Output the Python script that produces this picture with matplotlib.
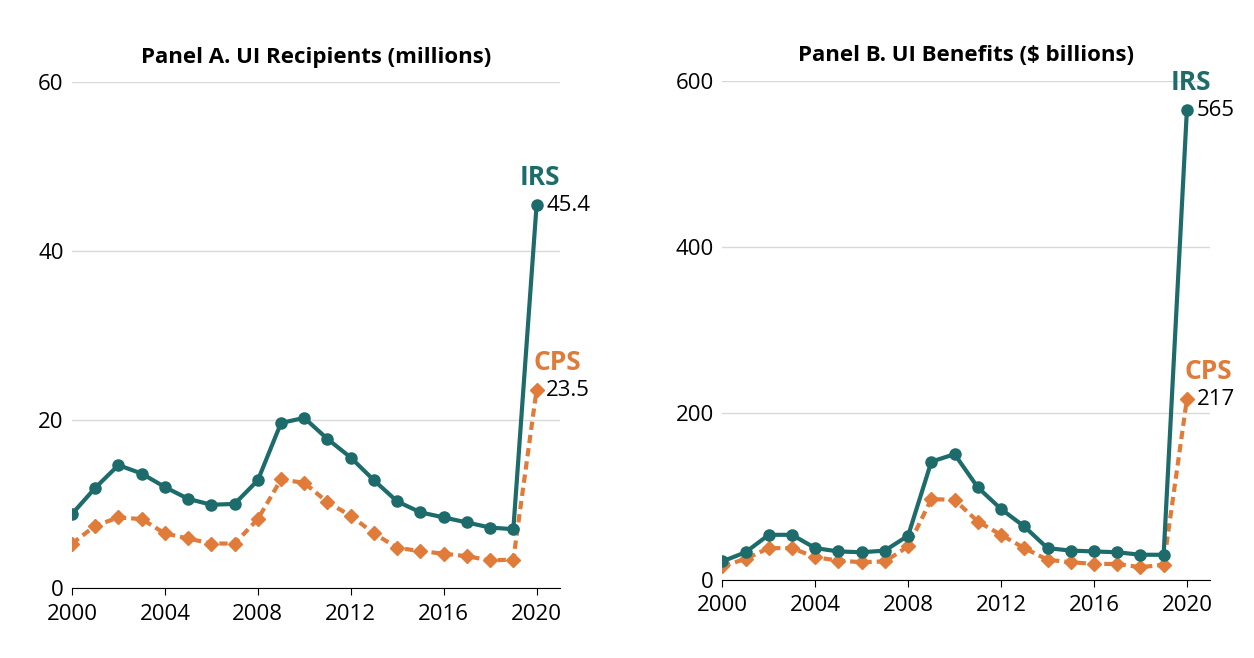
import matplotlib.pyplot as plt

years = list(range(2000, 2021))
irs_recip = [8.8, 11.9, 14.6, 13.6, 12.0, 10.6, 9.9, 10.0, 12.8, 19.6, 20.2,
             17.7, 15.5, 12.8, 10.3, 9.0, 8.4, 7.8, 7.2, 7.0, 45.4]
cps_recip = [5.3, 7.4, 8.4, 8.2, 6.5, 5.9, 5.3, 5.3, 8.2, 12.9, 12.5,
             10.2, 8.6, 6.5, 4.8, 4.4, 4.1, 3.8, 3.3, 3.4, 23.5]
irs_ben = [22, 33, 54, 54, 38, 34, 33, 35, 53, 142, 151,
           111, 85, 64, 38, 35, 34, 33, 30, 30, 565]
cps_ben = [16, 25, 38, 38, 27, 23, 21, 22, 40, 97, 96,
           70, 54, 38, 24, 21, 19, 19, 15, 18, 217]

TEAL = '#1d6b6b'
ORANGE = '#e07b39'
plt.rcParams['font.family'] = 'Open Sans'

fig = plt.figure(figsize=(12.54, 6.58), dpi=100)
ax1 = fig.add_axes([0.0574, 0.106, 0.389, 0.769])
ax2 = fig.add_axes([0.576, 0.119, 0.389, 0.758])

panels = [
    (ax1, irs_recip, cps_recip, 60, [0, 20, 40, 60], "Panel A. UI Recipients (millions)", "45.4", "23.5"),
    (ax2, irs_ben, cps_ben, 600, [0, 200, 400, 600], "Panel B. UI Benefits ($ billions)", "565", "217"),
]
for ax, irs, cps, ymax, yt, title, irs_lbl, cps_lbl in panels:
    ax.plot(years, cps, color=ORANGE, lw=3, ls=(0, (2, 1.2)), marker='D', ms=7, zorder=3)
    ax.plot(years, irs, color=TEAL, lw=3, marker='o', ms=8, zorder=4)
    ax.set_xlim(2000, 2021.0)
    ax.set_ylim(0, ymax)
    ax.set_yticks(yt)
    ax.set_xticks(range(2000, 2021, 4))
    ax.grid(axis='y', color='#d9d9d9', lw=1)
    ax.set_axisbelow(True)
    for s in ['top', 'right', 'left']:
        ax.spines[s].set_visible(False)
    ax.spines['bottom'].set_color('black')
    ax.tick_params(axis='both', labelsize=16, length=0, pad=6)
    ax.tick_params(axis='x', length=5, color='black')
    ax.set_title(title, fontsize=16, fontweight='bold', pad=14)
    ax.annotate(irs_lbl, (2020, irs[-1]), xytext=(7, 0), textcoords='offset points',
                fontsize=16, va='center')
    ax.annotate(cps_lbl, (2020, cps[-1]), xytext=(7, 0), textcoords='offset points',
                fontsize=16, va='center')
    ax.annotate('IRS', (2020, irs[-1]), xytext=(-12, 10), textcoords='offset points',
                fontsize=19, fontweight='bold', color=TEAL, ha='left', va='bottom')
    ax.annotate('CPS', (2020, cps[-1]), xytext=(-2, 10), textcoords='offset points',
                fontsize=19, fontweight='bold', color=ORANGE, ha='left', va='bottom')

fig.savefig('out.png', dpi=100)
